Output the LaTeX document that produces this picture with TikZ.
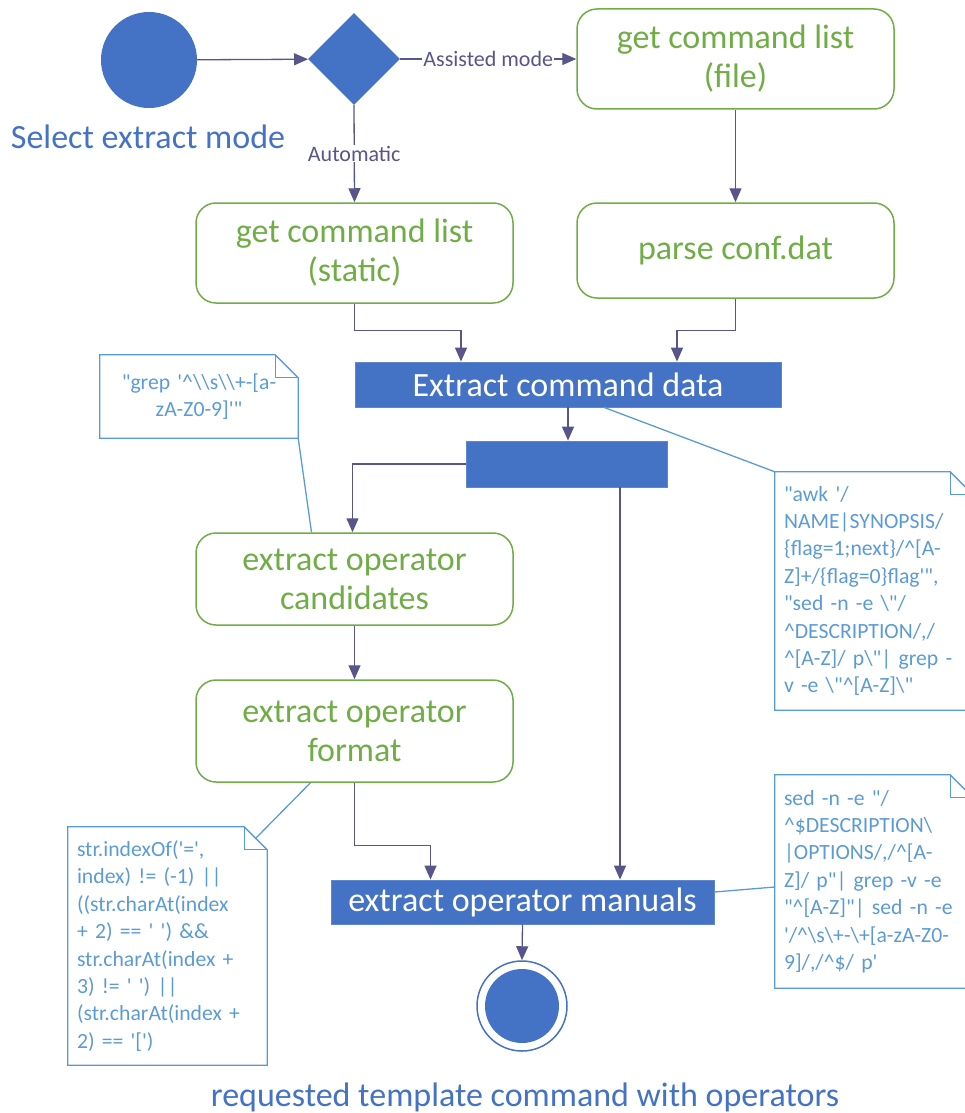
\documentclass[tikz,border=0pt]{standalone}
\usepackage{fontspec}
\newfontfamily\carlito{Carlito}
\usetikzlibrary{arrows.meta,shapes.geometric}
\definecolor{flowblue}{HTML}{4472C4}
\definecolor{actgreen}{HTML}{70AD47}
\definecolor{noteblue}{HTML}{5B9BD5}
\definecolor{flowline}{HTML}{58558A}

% outline of a note with a folded top-right corner
\newcommand\foldnote[1]{%
  \draw[noteline] (#1.north west) -- ([xshift=-23pt]#1.north east)
    -- ([yshift=-23pt]#1.north east) -- (#1.south east)
    -- (#1.south west) -- cycle;
  \draw[noteline] ([xshift=-23pt]#1.north east) |- ([yshift=-23pt]#1.north east);}

\begin{document}
\begin{tikzpicture}[x=1pt,y=-1pt,
  act/.style={draw=actgreen, line width=1.5pt, rounded corners=20pt,
    minimum width=317pt, minimum height=100pt, text=actgreen,
    font=\carlito\fontsize{34}{39}\selectfont, align=center, inner sep=0pt},
  bar/.style={fill=flowblue, draw=flowblue!85!white, line width=0.8pt, text=white,
    font=\carlito\fontsize{34}{39}\selectfont, inner sep=0pt},
  flow/.style={draw=flowline, line width=1.3pt, -{Triangle[length=14pt,width=12pt]}},
  lbl/.style={text=flowline, font=\carlito\fontsize{22}{26}\selectfont, fill=white, inner sep=1pt},
  caption/.style={text=flowblue, font=\carlito\fontsize{34}{39}\selectfont, inner sep=0pt},
  noteline/.style={draw=noteblue, line width=1.3pt},
  notebox/.style={text=noteblue, font=\carlito\fontsize{21.7}{27.4}\selectfont,
    inner xsep=9pt, inner ysep=0pt, text width=180pt, align=left, minimum height=238pt},
]
\useasboundingbox (0,0) rectangle (965,1113);
\clip (0,0) rectangle (965,1113);

% initial node and decision
\node[circle, fill=flowblue, minimum size=96pt, inner sep=0pt] (start) at (149,60) {};
\node[caption] (startlbl) at (148,137) {Select extract mode};
\node[diamond, fill=flowblue, minimum width=92pt, minimum height=92pt, inner sep=0pt] (dec) at (354,59) {};

% activities
\node[act] (file)   at (735.5,59)  {get command list\\(file)};
\node[act] (static) at (354.5,253) {get command list\\(static)};
\node[act, minimum height=95pt] (parse) at (735.5,250.5) {parse conf.dat};
\node[bar, minimum width=426pt, minimum height=45pt] (extract) at (568,384.5) {Extract command data};
\node[bar, minimum width=201pt, minimum height=46pt] (fork) at (566.5,464) {};
\node[act, minimum height=92pt] (cand) at (354.5,579) {extract operator\\candidates};
\node[act, minimum height=102pt] (format) at (354.5,731) {extract operator\\format};
\node[bar, minimum width=383pt, minimum height=44pt] (manuals) at (522.5,902) {extract operator manuals};

% final node
\node[circle, draw=flowblue, line width=1.5pt, minimum size=90pt, inner sep=0pt] (end) at (522,1006) {};
\node[circle, fill=flowblue, minimum size=74pt, inner sep=0pt] (endcore) at (end.center) {};
\node[caption] (endlbl) at (525,1097) {requested template command with operators};

% notes
\node[notebox, align=center, minimum height=83pt, text width=180pt] (note1) at (199,396.5)
  {"grep '\textasciicircum\textbackslash\textbackslash s\textbackslash\textbackslash +-[a-\\zA-Z0-9]'"};
\node[notebox] (note2) at (874,591)
  {"awk '/\\
NAME|SYNOPSIS/\\
\{flag=1;next\}/\textasciicircum[A-\\
Z]+/\{flag=0\}flag'",\\
"sed -n -e \textbackslash"/\\
\textasciicircum DESCRIPTION/,/\\
\textasciicircum[A-Z]/ p\textbackslash"| grep -\\
v -e \textbackslash"\textasciicircum[A-Z]\textbackslash"};
\node[notebox, text width=181pt] (note3) at (167.5,946)
  {str.indexOf('=',\\
index) != (-1) ||\\
((str.charAt(index\\
+ 2) == ' ') \&\&\\
str.charAt(index +\\
3) != ' ') ||\\
(str.charAt(index +\\
2) == '[')};
\node[notebox, minimum height=213pt] (note4) at (874,881.5)
  {sed -n -e "/\\
\textasciicircum\$DESCRIPTION\textbackslash\\
|OPTIONS/,/\textasciicircum[A-\\
Z]/ p"| grep -v -e\\
"\textasciicircum[A-Z]"| sed -n -e\\
'/\textasciicircum\textbackslash s\textbackslash+-\textbackslash+[a-zA-Z0-\\
9]/,/\textasciicircum\$/ p'};
\foldnote{note1}
\foldnote{note2}
\foldnote{note3}
\foldnote{note4}

% control flow
\draw[flow] (start) -- (dec);
\draw[flow] (dec.east) -- node[lbl] {Assisted mode} (file.west);
\draw[flow] (dec.south) -- node[lbl] {Automatic} (static.north);
\draw[flow] (file.south) -- (parse.north);

\coordinate (inL) at ([xshift=-107pt]extract.north);
\coordinate (inR) at ([xshift=109pt]extract.north);
\draw[flow] (static.south) -- ++(0,27) -| (inL);
\draw[flow] (parse.south) -- ++(0,32) -| (inR);
\draw[flow] (extract.south) -- (extract.south |- fork.north);

\coordinate (cIn) at ([xshift=-2pt]cand.north);
\draw[flow] (fork.west) -| (cIn);
\coordinate (forkout) at ([xshift=53.5pt]fork.south);
\draw[flow] (forkout) -- (forkout |- manuals.north);
\draw[flow] (cand.south) -- (format.north);
\coordinate (mIn) at ([xshift=-92pt]manuals.north);
\draw[flow] (format.south) -- ++(0,63) -| (mIn);
\draw[flow] (manuals.south) -- (end.north);

% note anchors
\coordinate (n1a) at ([xshift=-43pt]cand.north);
\draw[noteline] (note1.south east) -- (n1a);
\coordinate (n2a) at ([xshift=36pt]extract.south);
\draw[noteline] (n2a) -- (note2.north west);
\coordinate (n3a) at ([xshift=-12pt,yshift=-12pt]note3.north east);
\coordinate (n3b) at ([xshift=-44pt]format.south);
\draw[noteline] (n3a) -- (n3b);
\coordinate (n4a) at ([yshift=10pt]manuals.east);
\coordinate (n4b) at ([yshift=-5.5pt]note4.west);
\draw[noteline] (n4a) -- (n4b);
\end{tikzpicture}
\end{document}
